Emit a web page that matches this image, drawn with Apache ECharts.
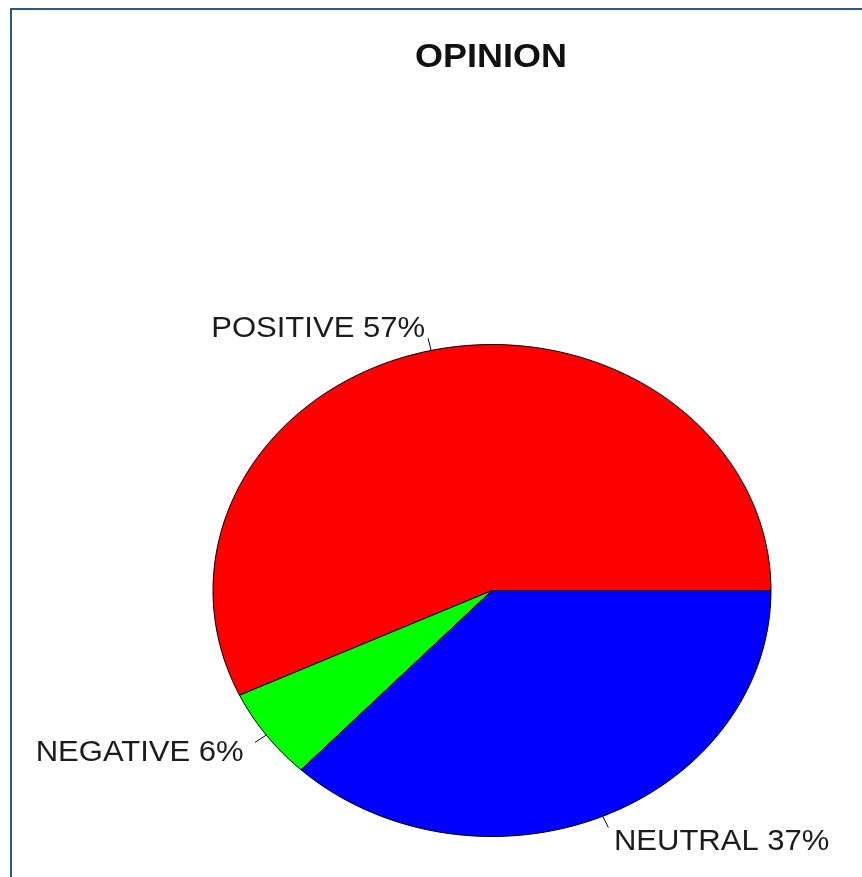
<!DOCTYPE html>
<html>
<head>
<meta charset="utf-8">
<title>OPINION</title>
<script src="https://cdn.jsdelivr.net/npm/echarts@6/dist/echarts.min.js"></script>
<style>
  html, body { margin: 0; padding: 0; background: #fff; }
  #chart { width: 862px; height: 877px; }
</style>
</head>
<body>
<div id="chart"></div>
<script>
// slices, in the order R draws them (counter-clockwise from 3 o'clock)
const categories = ['POSITIVE', 'NEGATIVE', 'NEUTRAL'];
const shares = [57, 6, 37];
const sliceColors = ['#ff0000', '#00ff00', '#0000ff'];

const FONT = '"Liberation Sans", Arial, sans-serif';
const total = shares.reduce((a, b) => a + b, 0);
const starts = [];
shares.reduce((acc, v, i) => { starts[i] = acc; return acc + v; }, 0);

// each slice is an elliptical sector, placed through the x/y axes (-1..1)
function renderSlice(params, api) {
  const i = params.dataIndex;
  const a0 = starts[i] / total * 2 * Math.PI;
  const a1 = (starts[i] + shares[i]) / total * 2 * Math.PI;
  const steps = Math.max(2, Math.ceil(200 * shares[i] / total));
  const pts = [api.coord([0, 0])];
  for (let k = 0; k <= steps; k++) {
    const a = a0 + (a1 - a0) * k / steps;
    pts.push(api.coord([Math.cos(a), Math.sin(a)]));
  }
  const mid = (a0 + a1) / 2;
  const cx = Math.cos(mid), cy = Math.sin(mid);
  const p1 = api.coord([cx, cy]);
  const p2 = api.coord([1.05 * cx, 1.05 * cy]);
  const p3 = api.coord([1.1 * cx, 1.1 * cy]);
  return {
    type: 'group',
    children: [
      {
        type: 'polygon',
        shape: { points: pts },
        style: { fill: sliceColors[i], stroke: '#000', lineWidth: 1 }
      },
      {
        type: 'line',
        shape: { x1: p1[0], y1: p1[1], x2: p2[0], y2: p2[1] },
        style: { stroke: '#000', lineWidth: 1 }
      },
      {
        type: 'text',
        x: p3[0],
        y: p3[1] + 3,
        scaleX: 1.07,
        style: {
          text: categories[i] + ' ' + shares[i] + '%',
          align: cx < 0 ? 'right' : 'left',
          verticalAlign: 'middle',
          fontSize: 29,
          fontFamily: FONT,
          fill: '#1c1c1c'
        }
      }
    ]
  };
}

const chart = echarts.init(document.getElementById('chart'));

chart.setOption({
  backgroundColor: '#fff',
  animation: false,
  graphic: [
    {
      type: 'rect',
      shape: { x: 11, y: 9, width: 1000, height: 1000 },
      style: { fill: 'none', stroke: '#265a8a', lineWidth: 2 },
      silent: true
    },
    {
      type: 'text',
      x: 491,
      y: 41,
      scaleX: 1.09,
      style: {
        text: 'OPINION',
        align: 'center',
        verticalAlign: 'top',
        fontSize: 33,
        fontWeight: 'bold',
        fontFamily: FONT,
        fill: '#111'
      }
    }
  ],
  grid: { left: 213, top: 344.5, width: 558, height: 492 },
  xAxis: { type: 'value', min: -1, max: 1, show: false },
  yAxis: { type: 'value', min: -1, max: 1, show: false },
  series: [{
    type: 'custom',
    clip: false,
    renderItem: renderSlice,
    data: shares.map((v, i) => [0, 0, v])
  }]
});
</script>
</body>
</html>
